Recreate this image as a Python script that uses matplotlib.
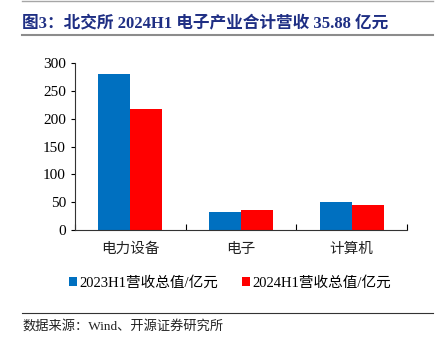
import matplotlib.pyplot as plt
import numpy as np
from matplotlib.lines import Line2D

plt.rcParams['font.family'] = ['Liberation Serif', 'Noto Sans CJK SC']

categories = ['电力设备', '电子', '计算机']
rev_2023h1 = [280.0, 32.0, 50.5]
rev_2024h1 = [217.5, 35.88, 44.5]
series_names = ['2023H1营收总值/亿元', '2024H1营收总值/亿元']

fig = plt.figure(figsize=(4.44, 3.48), dpi=100)
ax = fig.add_axes([75/444, 1-230/348, 332/444, 167/348])

x = np.arange(len(categories))
w = 0.29
ax.bar(x - w/2, rev_2023h1, w, color='#0070C0', label=series_names[0])
ax.bar(x + w/2, rev_2024h1, w, color='#FF0000', label=series_names[1])

ax.set_xlim(-0.5, len(categories) - 0.5)
ax.set_ylim(0, 300)
ax.set_yticks(range(0, 301, 50))
ax.tick_params(axis='y', labelsize=11, length=3, direction='out')
ax.set_xticks(np.arange(-0.5, len(categories), 1.0))
ax.set_xticklabels([])
ax.tick_params(axis='x', length=4, direction='in')
for i, c in enumerate(categories):
    ax.text(i, -22, c, ha='center', va='top', fontsize=10.5,
            family=['Noto Sans CJK SC'], color='#222222')
for s in ['top', 'right']:
    ax.spines[s].set_visible(False)
for s in ['left', 'bottom']:
    ax.spines[s].set_color('#333333')

leg = fig.legend(loc='center', bbox_to_anchor=(230/444, 1-283/348), ncol=2,
                 frameon=False, fontsize=10.5, handlelength=0.6, handleheight=0.6,
                 handletextpad=0.15, columnspacing=1.6)

# title block
fig.add_artist(Line2D([22/444, 433/444], [1-1/348, 1-1/348], color='#A6A6A6', lw=1))
fig.text(22/444, 1-23/348, '图3：北交所 2024H1 电子产业合计营收 35.88 亿元',
         ha='left', va='center', fontsize=12, fontweight='bold', color='#1F2F84',
         family=['Liberation Serif', 'Noto Sans CJK SC'])
fig.add_artist(Line2D([22/444, 433/444], [1-35/348, 1-35/348], color='#8C8C8C', lw=1.5))

# source note
fig.add_artist(Line2D([22/444, 433/444], [1-313/348, 1-313/348], color='#333333', lw=0.8))
fig.text(22/444, 1-326/348, '数据来源：Wind、开源证券研究所', ha='left', va='center',
         fontsize=9.5, color='#222222')

fig.savefig('out.png', dpi=100)
